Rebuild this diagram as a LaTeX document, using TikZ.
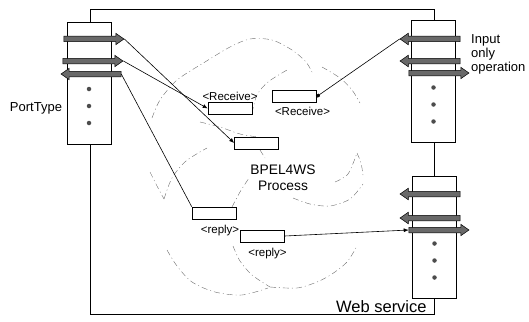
\documentclass[tikz,border=0pt]{standalone}
\usepackage{fontspec}
\setmainfont{Liberation Sans}
\usepackage{tikz}
\usetikzlibrary{
  shapes.arrows,
  arrows.meta,
  positioning
}
\definecolor{wsgray}{RGB}{105,105,105}
\definecolor{wscloud}{RGB}{110,110,110}
\tikzset{
  port/.style={
    rectangle, draw=black, line width=0.6pt, fill=white,
    minimum width=44pt, minimum height=122pt, inner sep=0pt
  },
  oparrow/.style={
    single arrow, draw=black, fill=wsgray, line width=0.5pt,
    minimum height=60pt, inner xsep=0pt, inner ysep=2.5pt,
    single arrow head extend=3pt, single arrow head indent=0pt,
    single arrow tip angle=70
  },
  oparrowL/.style={
    oparrow, shape border rotate=180
  },
  actbox/.style={
    rectangle, draw=black, line width=0.6pt, fill=white,
    minimum width=44pt, minimum height=12pt, inner sep=0pt
  },
  dotmark/.style={circle, fill=black!70, minimum size=4.5pt, inner sep=0pt},
  link/.style={-{Latex[length=5pt,width=4pt]}, line width=0.6pt, black},
  cloudline/.style={wscloud, thin, dash pattern=on 6pt off 3pt on 1pt off 3pt}
}

\begin{document}
\begin{tikzpicture}[x=1pt, y=-1pt,
  lbl/.style={font=\fontsize{11.5}{12}\selectfont, inner sep=0pt},
  bigl/.style={font=\fontsize{13}{14}\selectfont, inner sep=0pt}
]
\useasboundingbox (0,0) rectangle (529,321);

\node[draw=black, line width=0.6pt, minimum width=344pt, minimum height=305pt, inner sep=0pt] (ws) at (262,161.5) {};

% cloud of the process
\draw[cloudline] plot[smooth] coordinates {(152,118) (160,100) (177,80) (205,62) (230,47) (250,39) (272,40) (292,50) (306,62) (313,74)};
\draw[cloudline] plot[smooth] coordinates {(252,113) (257,95) (268,82) (287,70)};
\draw[cloudline] plot[smooth] coordinates {(322,67) (340,78) (352,90) (360,103)};
\draw[cloudline] plot[smooth] coordinates {(200,122) (220,127) (240,134) (258,137)};
\draw[cloudline] plot[smooth] coordinates {(260,150) (265,158)};
\draw[cloudline] plot[smooth] coordinates {(150,172) (157,186) (164,199)};
\draw[cloudline] plot[smooth] coordinates {(164,199) (172,178) (186,161) (207,148)};
\draw[cloudline] plot[smooth] coordinates {(232,207) (240,192) (249,178)};
\draw[cloudline] plot[smooth] coordinates {(335,182) (348,174) (357,153)};
\draw[cloudline] plot[smooth] coordinates {(357,153) (361,163) (363,175)};
\draw[cloudline] plot[smooth] coordinates {(293,198) (310,204) (330,206) (350,199) (363,184)};
\draw[cloudline] plot[smooth] coordinates {(167,250) (177,266) (192,282) (215,292) (242,295) (268,288)};
\draw[cloudline] plot[smooth] coordinates {(233,246) (240,261) (252,275) (270,287)};
\draw[cloudline] plot[smooth] coordinates {(270,287) (297,288) (317,282) (332,274) (347,262) (357,246)};

\node[port] (lport)  at (89,83)      {};
\node[port] (rtport) at (433.5,81.5) {};
\node[port] (rbport) at (434.5,237.5) {};

\foreach \p in {lport,rtport,rbport}{
  \foreach \dy in {6,23,40}{
    \node[dotmark] (\p-d\dy) at ([yshift=-\dy pt]\p.center) {};
  }
}

\node[oparrow]  (lp1) at (92,39)  {};
\node[oparrow]  (lp2) at (91,61)  {};
\node[oparrowL] (lp3) at (93,74)  {};
\node[oparrowL] (rt1) at (432,39) {};
\node[oparrowL] (rt2) at (432,61) {};
\node[oparrow]  (rt3) at (437,73) {};
\node[oparrowL] (rb1) at (432,194) {};
\node[oparrowL] (rb2) at (432,218) {};
\node[oparrow]  (rb3) at (437,230) {};

\node[actbox] (recv1) at (230,108.5) {};
\node[actbox] (recv2) at (294.5,96.5) {};
\node[actbox] (proc)  at (256.5,143) {};
\node[actbox] (reply1) at (214,213) {};
\node[actbox] (reply2) at (262.5,236) {};

\node[lbl, above=1pt of recv1] (recv1l) {<Receive>};
\node[lbl, below=4pt of recv2, xshift=8pt] (recv2l) {<Receive>};
\node[lbl, below=6pt of reply1, xshift=6pt] (reply1l) {<reply>};
\node[lbl, below=6pt of reply2, xshift=5pt] (reply2l) {<reply>};
\node[font=\fontsize{13.8}{16}\selectfont, align=center, inner sep=0pt] (bpel) at (283,178) {BPEL4WS\\Process};
\node[bigl] (ptype) at (36,108) {PortType};
\node[bigl, align=left, anchor=west] (inop) at (471,54) {Input\\only\\operation};
\node[font=\fontsize{16.5}{18}\selectfont, anchor=south east, inner sep=1.5pt] (wsl) at ([xshift=-6pt]ws.south east) {Web service};

\draw[link] (lp1.tip) -- (proc.west);
\draw[link] (lp2.tip) -- (recv1.west);
\draw[line width=0.6pt] (lp3.tail) -- (reply1.north west);
\draw[{Square[length=3pt,width=3pt]}-, line width=0.6pt] (recv2.east) -- (rt1.tip);
\draw[link] (reply2.east) -- (rb3.tail);
\end{tikzpicture}
\end{document}
